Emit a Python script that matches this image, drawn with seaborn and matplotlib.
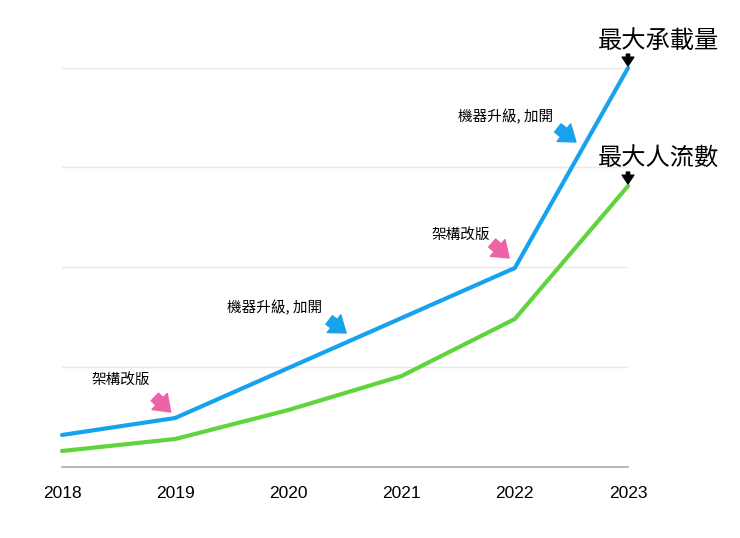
import seaborn as sns, matplotlib.pyplot as plt
import pandas as pd

years = [2018, 2019, 2020, 2021, 2022, 2023]
capacity = [0.32, 0.49, 0.99, 1.49, 1.99, 3.99]   # 最大承載量
traffic = [0.16, 0.28, 0.57, 0.91, 1.48, 2.81]    # 最大人流數
series_names = ['最大承載量', '最大人流數']

blue = '#17a2ee'
green = '#5fd43c'
pink = '#ec64a6'

sns.set_style('white')
plt.rcParams['font.family'] = ['Liberation Sans', 'Noto Sans CJK TC', 'DejaVu Sans']
cjk = ['Noto Sans CJK TC', 'DejaVu Sans']

df = pd.DataFrame({
    'year': years * 2,
    'value': capacity + traffic,
    'series': [series_names[0]] * len(years) + [series_names[1]] * len(years),
})

fig = plt.figure(figsize=(7.4, 5.38), dpi=100)
ax = fig.add_axes([62 / 740, 71 / 538, 566 / 740, 399 / 538])

sns.lineplot(data=df, x='year', y='value', hue='series',
             palette=[blue, green], linewidth=3, legend=False, ax=ax)
for ln in ax.lines:
    ln.set_clip_on(False)
    ln.set_solid_joinstyle('miter')

ax.set_xlim(2018, 2023)
ax.set_ylim(0, 3.99)
ax.set_yticks([1, 2, 3, 3.99])
ax.set_yticklabels([])
ax.yaxis.grid(True, color='#e8e8e8', linewidth=1)
ax.set_xticks(years)
ax.set_xticklabels([str(y) for y in years], fontsize=12.5, color='black')
ax.tick_params(axis='x', length=0, pad=14)
ax.tick_params(axis='y', length=0)
ax.set_xlabel('')
ax.set_ylabel('')
for s in ['top', 'right', 'left']:
    ax.spines[s].set_visible(False)
ax.spines['bottom'].set_color('#aaaaaa')
ax.spines['bottom'].set_linewidth(1.2)

# event notes: (text centre, arrow tail, arrow tip, colour)
notes = [
    ('架構改版', (2018.52, 0.87), (2018.82, 0.70), (2018.96, 0.55), pink),
    ('機器升級, 加開', (2019.88, 1.59), (2020.36, 1.47), (2020.51, 1.34), blue),
    ('架構改版', (2021.52, 2.32), (2021.80, 2.24), (2021.95, 2.09), pink),
    ('機器升級, 加開', (2021.92, 3.50), (2022.38, 3.39), (2022.54, 3.25), blue),
]
for label, txy, tail, tip, col in notes:
    ax.text(txy[0], txy[1], label, ha='center', va='center', fontsize=10.5,
            family=cjk, color='black')
    ax.annotate('', xy=tip, xytext=tail,
                arrowprops=dict(arrowstyle='simple,head_length=0.55,head_width=0.8,tail_width=0.38',
                                color=col, mutation_scale=20, shrinkA=0, shrinkB=0),
                annotation_clip=False)

# end labels
for name, vals in zip(series_names, [capacity, traffic]):
    end = (years[-1], vals[-1])
    ax.annotate('', xy=end, xytext=(0, 10), textcoords='offset points',
                xycoords='data',
                arrowprops=dict(arrowstyle='simple,head_length=0.45,head_width=0.6,tail_width=0.17',
                                color='black', mutation_scale=14, shrinkA=0, shrinkB=1.5),
                annotation_clip=False)
    ax.annotate(name, xy=end, xytext=(-22, 19.5), textcoords='offset points',
                ha='left', va='center', fontsize=17.5, family=cjk, color='black',
                annotation_clip=False)

fig.savefig('out.png', dpi=100)
